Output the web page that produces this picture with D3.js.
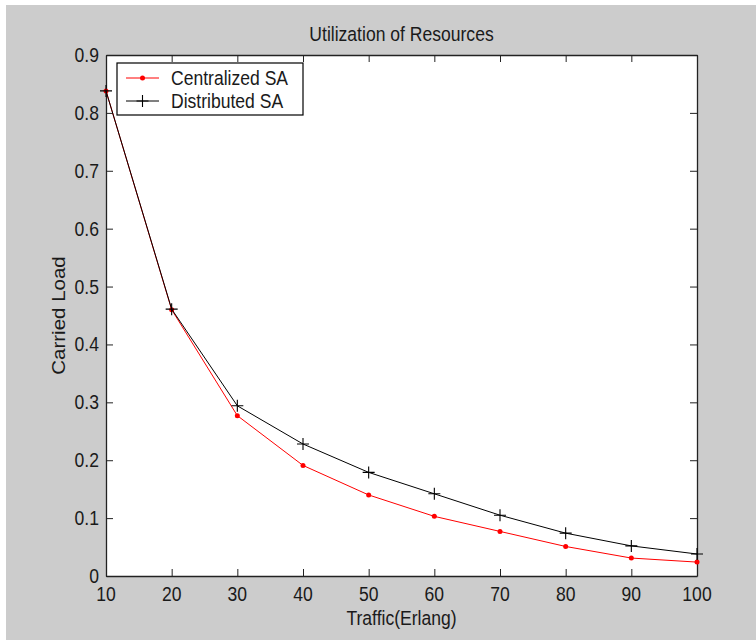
<!DOCTYPE html>
<html>
<head>
<meta charset="utf-8">
<script src="https://cdn.jsdelivr.net/npm/d3@7"></script>
<style>
  html, body { margin: 0; padding: 0; background: #ffffff; }
  svg { display: block; }
  text { font-family: "Liberation Sans", Arial, Helvetica, sans-serif; fill: #1a1a1a; }
</style>
</head>
<body>
<svg id="chart" width="756" height="640"></svg>
<script>
// Traffic load (Erlang) on the x axis
const traffic = [10, 20, 30, 40, 50, 60, 70, 80, 90, 100];
// Carried load for each scheme
const centralizedSA = [0.838, 0.460, 0.277, 0.191, 0.140, 0.103, 0.077, 0.051, 0.031, 0.024];
const distributedSA = [0.838, 0.461, 0.294, 0.228, 0.179, 0.142, 0.105, 0.074, 0.052, 0.038];
// Tick labels
const xTicks = [10, 20, 30, 40, 50, 60, 70, 80, 90, 100];
const yTicks = [0, 0.1, 0.2, 0.3, 0.4, 0.5, 0.6, 0.7, 0.8, 0.9];
const yTickLabels = ["0", "0.1", "0.2", "0.3", "0.4", "0.5", "0.6", "0.7", "0.8", "0.9"];

const title = "Utilization of Resources";
const xLabel = "Traffic(Erlang)";
const yLabel = "Carried Load";
const seriesNames = ["Centralized SA", "Distributed SA"];

const W = 756, H = 640;
const plot = { left: 106, right: 697, top: 55, bottom: 576 };
const FS = 19.5;        // font size
const SX = 0.9;         // glyph compression across the page width
const tickLen = 7;
const axisColor = "#222";
const lw = 1;

const svg = d3.select("#chart");

// figure background
svg.append("rect").attr("x", 0).attr("y", 0).attr("width", W).attr("height", H).attr("fill", "#ffffff");
svg.append("rect").attr("x", 6).attr("y", 5).attr("width", W - 6).attr("height", H - 5).attr("fill", "#cccccc");

const x = d3.scaleLinear().domain([10, 100]).range([plot.left, plot.right]);
const y = d3.scaleLinear().domain([0, 0.9]).range([plot.bottom, plot.top]);

// plot area
svg.append("rect")
  .attr("x", plot.left).attr("y", plot.top)
  .attr("width", plot.right - plot.left).attr("height", plot.bottom - plot.top)
  .attr("fill", "#ffffff");

// horizontal text, glyphs compressed across the page width
function label(g, str, px, py, anchor) {
  return g.append("text")
    .attr("transform", `translate(${px},${py}) scale(${SX},1)`)
    .attr("text-anchor", anchor)
    .attr("font-size", FS)
    .text(str);
}

// axes: ticks pointing inward on all four sides, labels on bottom and left
function styleAxis(g) {
  g.select(".domain").attr("stroke", axisColor).attr("stroke-width", 1.3);
  g.selectAll(".tick line").attr("stroke", axisColor).attr("stroke-width", 1);
}

const gx = svg.append("g")
  .attr("transform", `translate(0,${plot.bottom})`)
  .call(d3.axisBottom(x).tickValues(xTicks).tickSize(-tickLen).tickSizeOuter(0).tickFormat(""));
styleAxis(gx);

const gxTop = svg.append("g")
  .attr("transform", `translate(0,${plot.top})`)
  .call(d3.axisTop(x).tickValues(xTicks).tickSize(-tickLen).tickSizeOuter(0).tickFormat(""));
styleAxis(gxTop);

const gy = svg.append("g")
  .attr("transform", `translate(${plot.left},0)`)
  .call(d3.axisLeft(y).tickValues(yTicks).tickSize(-tickLen).tickSizeOuter(0).tickFormat(""));
styleAxis(gy);

const gyRight = svg.append("g")
  .attr("transform", `translate(${plot.right},0)`)
  .call(d3.axisRight(y).tickValues(yTicks).tickSize(-tickLen).tickSizeOuter(0).tickFormat(""));
styleAxis(gyRight);

// tick labels
const labels = svg.append("g");
xTicks.forEach(v => label(labels, String(v), x(v), 601, "middle"));
yTicks.forEach((v, i) => label(labels, yTickLabels[i], 99, y(v) + 7, "end"));

// titles
label(svg, title, (plot.left + plot.right) / 2, 41, "middle");
label(svg, xLabel, (plot.left + plot.right) / 2, 625, "middle");
// vertical axis title: the long direction runs down the page, so it is not compressed
svg.append("text")
  .attr("transform", `translate(65,${(plot.top + plot.bottom) / 2}) rotate(-90) scale(1,0.88)`)
  .attr("text-anchor", "middle")
  .attr("font-size", 20.5)
  .text(yLabel);

// series lines
const line = d3.line().x(d => x(d[0])).y(d => y(d[1]));
const cData = traffic.map((t, i) => [t, centralizedSA[i]]);
const dData = traffic.map((t, i) => [t, distributedSA[i]]);

svg.append("path").datum(cData).attr("d", line)
  .attr("fill", "none").attr("stroke", "#ff0000").attr("stroke-width", lw);
svg.selectAll("circle.c").data(cData).join("circle").attr("class", "c")
  .attr("cx", d => x(d[0])).attr("cy", d => y(d[1])).attr("r", 2.5).attr("fill", "#ff0000");

svg.append("path").datum(dData).attr("d", line)
  .attr("fill", "none").attr("stroke", "#000000").attr("stroke-width", lw);
const cross = 6;
const crossPath = d => `M${x(d[0]) - cross},${y(d[1])}H${x(d[0]) + cross}M${x(d[0])},${y(d[1]) - cross}V${y(d[1]) + cross}`;
svg.selectAll("path.d").data(dData).join("path").attr("class", "d")
  .attr("d", crossPath).attr("stroke", "#000").attr("stroke-width", 1.1).attr("fill", "none");

// legend
const lg = svg.append("g");
lg.append("rect").attr("x", 117).attr("y", 63).attr("width", 186).attr("height", 52)
  .attr("fill", "#ffffff").attr("stroke", "#000").attr("stroke-width", 1.2);
const rows = [78, 101];
// centralized entry
lg.append("line").attr("x1", 126).attr("x2", 159).attr("y1", rows[0]).attr("y2", rows[0])
  .attr("stroke", "#ff0000").attr("stroke-width", lw);
lg.append("circle").attr("cx", 142.5).attr("cy", rows[0]).attr("r", 2.5).attr("fill", "#ff0000");
label(lg, seriesNames[0], 171, rows[0] + 7, "start");
// distributed entry
lg.append("line").attr("x1", 126).attr("x2", 159).attr("y1", rows[1]).attr("y2", rows[1])
  .attr("stroke", "#000").attr("stroke-width", lw);
lg.append("path").attr("d", `M${142.5 - cross},${rows[1]}H${142.5 + cross}M142.5,${rows[1] - cross}V${rows[1] + cross}`)
  .attr("stroke", "#000").attr("stroke-width", 1.1);
label(lg, seriesNames[1], 171, rows[1] + 7, "start");
</script>
</body>
</html>
